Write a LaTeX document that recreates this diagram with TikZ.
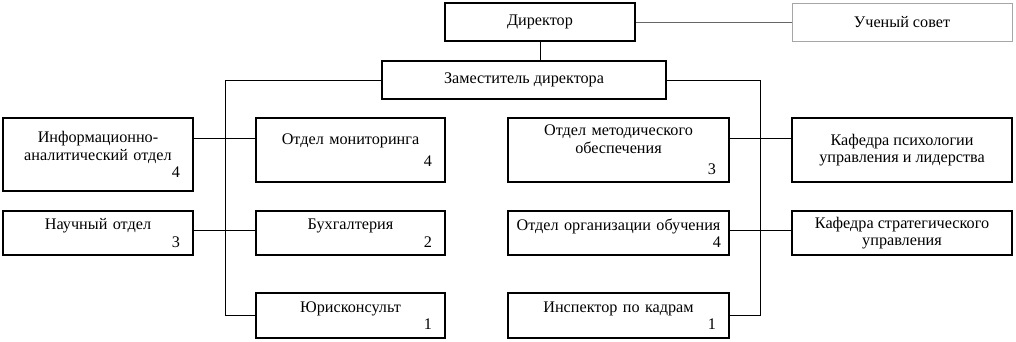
\documentclass[tikz,border=0pt]{standalone}
\usepackage{fontspec}
\setmainfont{Liberation Serif}
\usepackage{tikz}

\begin{document}
\begin{tikzpicture}[x=1pt, y=-1pt,
  unit/.style={draw, line width=1.1pt, rectangle, inner sep=0pt, align=center,
    font=\fontsize{16.2}{17.5}\selectfont},
  link/.style={line width=1pt}]
\useasboundingbox (0,0) rectangle (1016,341);
% Top level
\node[unit, minimum width=190, minimum height=38] (dir) at (540,22) {Директор};
\node[unit, draw=gray!70, line width=0.7pt, minimum width=220, minimum height=38] (sovet) at (902,22) {Ученый совет};
\node[unit, minimum width=284, minimum height=38] (dep) at (524,80) {Заместитель директора};
\draw[link, gray!80!black, line width=0.7pt] (dir.east) -- (sovet.west);
\draw[link] (dir.south -| 540,0) -- (540,61);

% Left branch
\node[unit, minimum width=190, minimum height=73, text width=164] (info) at (98,154.5) {Информационно-\\аналитический отдел\\ \hspace*{\fill}4};
\node[unit, minimum width=190, minimum height=44, text width=164] (nauch) at (98,233) {Научный отдел\\ \hspace*{\fill}3};
\node[unit, minimum width=189, minimum height=64, text width=163] (mon) at (350.5,150) {Отдел мониторинга\\[4pt] \hspace*{\fill}4};
\node[unit, minimum width=189, minimum height=44, text width=163] (buh) at (350.5,233) {Бухгалтерия\\ \hspace*{\fill}2};
\node[unit, minimum width=189, minimum height=45, text width=163] (jur) at (350.5,315.5) {Юрисконсульт\\ \hspace*{\fill}1};
\coordinate (lbus) at (225,315.5);
\draw[link] (dep.west) -| (lbus) -- (jur.west);
\draw[link] ([yshift=12pt]mon.west) -- ([yshift=12pt]mon.west -| info.east);
\draw[link] ([yshift=3pt]buh.west) -- ([yshift=3pt]buh.west -| nauch.east);

% Right branch
\node[unit, minimum width=221, minimum height=64, text width=195] (met) at (618.5,150) {Отдел методического\\обеспечения\\[4pt] \hspace*{\fill}3};
\node[unit, minimum width=221, minimum height=44, text width=205] (org) at (618.5,233) {Отдел организации обучения\\ \hspace*{\fill}4};
\node[unit, minimum width=221, minimum height=45, text width=195] (insp) at (618.5,315.5) {Инспектор по кадрам\\ \hspace*{\fill}1};
\node[unit, minimum width=220, minimum height=64] (kpsy) at (902,150) {Кафедра психологии\\управления и лидерства};
\node[unit, minimum width=220, minimum height=44] (kstr) at (902,233) {Кафедра стратегического\\управления};
\coordinate (rbus) at (760,315.5);
\draw[link] (dep.east) -| (rbus) -- (insp.east);
\draw[link] ([yshift=12pt]met.east) -- ([yshift=12pt]met.east -| kpsy.west);
\draw[link] ([yshift=3pt]org.east) -- ([yshift=3pt]org.east -| kstr.west);
\end{tikzpicture}
\end{document}
